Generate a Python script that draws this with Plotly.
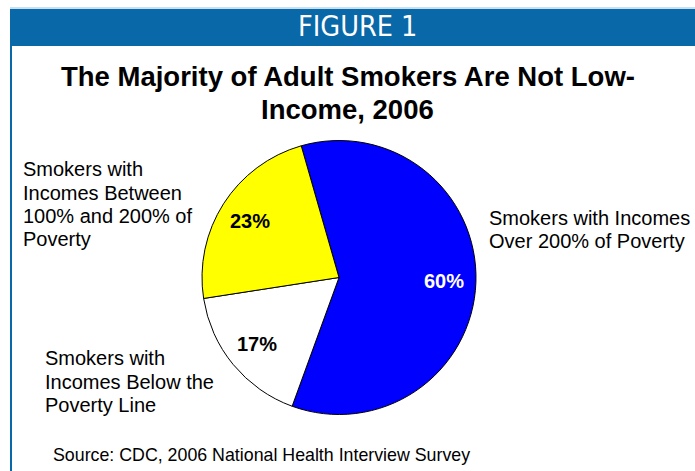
import math
import plotly.graph_objects as go

W, H = 695, 471

categories = [
    "Smokers with Incomes<br>Over 200% of Poverty",
    "Smokers with<br>Incomes Below the<br>Poverty Line",
    "Smokers with<br>Incomes Between<br>100% and 200% of<br>Poverty",
]
values = [60, 17, 23]
slice_colors = ["#0000FF", "#FFFFFF", "#FFFF00"]
text_colors = ["#FFFFFF", "#000000", "#000000"]
title_lines = ["The Majority of Adult Smokers Are Not Low-", "Income, 2006"]
header_text = "FIGURE 1"
source_text = "Source: CDC, 2006 National Health Interview Survey"

def px(x):
    return x / W

def py(y):
    return 1 - y / H

cx, cy, r = 339, 277.5, 137
rotation = -16

fig = go.Figure(go.Pie(
    labels=categories,
    values=values,
    sort=False,
    direction="clockwise",
    rotation=rotation,
    marker=dict(colors=slice_colors, line=dict(color="#000000", width=1)),
    textinfo="none",
    showlegend=False,
    hoverinfo="label+percent",
    domain=dict(x=[px(cx - r), px(cx + r)], y=[py(cy + r), py(cy - r)]),
))

blue = "#0868A8"
shapes = [
    dict(type="rect", xref="paper", yref="paper", x0=px(10), x1=px(W), y0=py(46), y1=py(9),
         fillcolor=blue, line=dict(width=0), layer="below"),
    dict(type="line", xref="paper", yref="paper", x0=px(10), x1=px(W), y0=py(8), y1=py(8),
         line=dict(color="#8FC3E6", width=1)),
    dict(type="rect", xref="paper", yref="paper", x0=px(10), x1=px(12), y0=py(H), y1=py(46),
         fillcolor=blue, line=dict(width=0)),
]

annotations = []

def add_lines(lines, x, centers, font, xanchor="left"):
    for line, yc in zip(lines, centers):
        annotations.append(dict(text=line, x=px(x), y=py(yc), xref="paper", yref="paper",
                                showarrow=False, xanchor=xanchor, yanchor="middle", font=font))

lab_font = dict(family="Liberation Sans, Arial", size=20, color="#000000")

annotations.append(dict(text=header_text, x=px(357), y=py(27), xref="paper", yref="paper",
                        showarrow=False, xanchor="center", yanchor="middle",
                        font=dict(family="DejaVu Sans Condensed, DejaVu Sans",
                                  size=28.5, color="#FFFFFF")))
add_lines(["<b>" + t + "</b>" for t in title_lines], 348, [77, 110],
          dict(family="Liberation Sans, Arial", size=27.5, color="#000000"), xanchor="center")
add_lines(categories[2].split("<br>"), 21, [169, 193, 216, 239], lab_font)
add_lines(categories[0].split("<br>"), 487, [218, 241], lab_font)
add_lines(categories[1].split("<br>"), 43, [358, 382, 405], lab_font)
add_lines([source_text], 51, [455],
          dict(family="Liberation Sans, Arial", size=17.8, color="#000000"))

# percent labels placed at the middle angle of each slice
total = sum(values)
start = rotation
for v, c in zip(values, text_colors):
    span = 360.0 * v / total
    mid = math.radians(start + span / 2)
    start += span
    rr = 0.77 * r
    xl = cx + rr * math.sin(mid)
    yl = cy - rr * math.cos(mid)
    annotations.append(dict(text="<b>%d%%</b>" % v, x=px(xl), y=py(yl), xref="paper", yref="paper",
                            showarrow=False, xanchor="center", yanchor="middle",
                            font=dict(family="Liberation Sans, Arial", size=20, color=c)))

fig.update_layout(
    width=W, height=H,
    margin=dict(l=0, r=0, t=0, b=0),
    paper_bgcolor="#FFFFFF",
    shapes=shapes,
    annotations=annotations,
)

fig.write_html("out.html")
